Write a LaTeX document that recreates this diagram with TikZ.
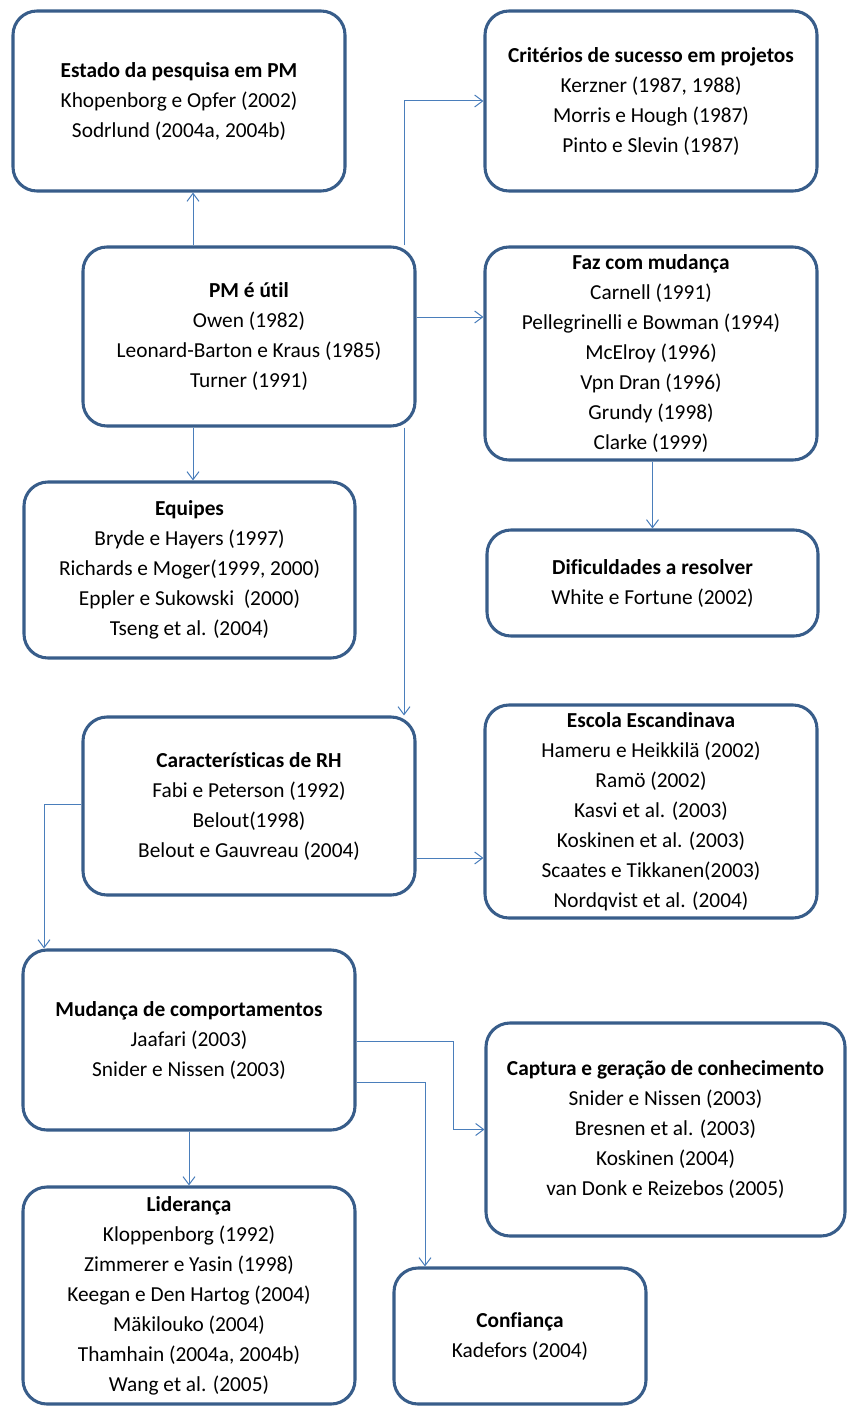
\documentclass[tikz,border=0pt]{standalone}
\usepackage{fontspec}
\setmainfont{Carlito}[RawFeature=-liga]
\usetikzlibrary{arrows.meta,calc}
\definecolor{boxblue}{HTML}{385D8A}
\definecolor{linkblue}{HTML}{4A7EBB}
\tikzset{every picture/.style={line width=0.75pt}}

\begin{document}
\begin{tikzpicture}[x=0.75pt,y=0.75pt,yscale=-1,
  caixa/.style={draw=boxblue,line width=2.3pt,rounded corners=18pt,fill=white,align=center,inner sep=0pt,font={\fontsize{16}{22.5}\selectfont}},
  liga/.style={draw=linkblue,line width=0.75pt,-{Straight Barb[length=6pt,width=9pt]}}]
  \useasboundingbox (0,0) rectangle (846,1409);

  %Shape: Rounded Rect [estado]
  \node[caixa,minimum width=249pt,minimum height=135pt] (estado) at (179,101) {\textbf{Estado da pesquisa em PM}\\Khopenborg e Opfer (2002)\\Sodrlund (2004a, 2004b)};
  %Shape: Rounded Rect [criterios]
  \node[caixa,minimum width=249pt,minimum height=135pt] (criterios) at (651,101) {\textbf{Critérios de sucesso em projetos}\\Kerzner (1987, 1988)\\Morris e Hough (1987)\\Pinto e Slevin (1987)};
  %Shape: Rounded Rect [util]
  \node[caixa,minimum width=249pt,minimum height=134.25pt] (util) at (249,336.5) {\textbf{PM é útil}\\Owen (1982)\\Leonard-Barton e Kraus (1985)\\Turner (1991)};
  %Shape: Rounded Rect [faz]
  \node[caixa,minimum width=249pt,minimum height=159.75pt] (faz) at (651,353.5) {\textbf{Faz com mudança}\\Carnell (1991)\\Pellegrinelli e Bowman (1994)\\McElroy (1996)\\Vpn Dran (1996)\\Grundy (1998)\\Clarke (1999)};
  %Shape: Rounded Rect [equipes]
  \node[caixa,minimum width=248.25pt,minimum height=132pt] (equipes) at (189.5,570) {\textbf{Equipes}\\Bryde e Hayers (1997)\\Richards e Moger(1999, 2000)\\Eppler e Sukowski~~(2000)\\Tseng et al. (2004)};
  %Shape: Rounded Rect [dificuldades]
  \node[caixa,minimum width=248.25pt,minimum height=79.5pt] (dificuldades) at (652.5,583) {\textbf{Dificuldades a resolver}\\White e Fortune (2002)};
  %Shape: Rounded Rect [caract]
  \node[caixa,minimum width=249pt,minimum height=133.5pt] (caract) at (249,806) {\textbf{Características de RH}\\Fabi e Peterson (1992)\\Belout(1998)\\Belout e Gauvreau (2004)};
  %Shape: Rounded Rect [escola]
  \node[caixa,minimum width=249pt,minimum height=159.75pt] (escola) at (651,811.5) {\textbf{Escola Escandinava}\\Hameru e Heikkilä (2002)\\Ramö (2002)\\Kasvi et al. (2003)\\Koskinen et al. (2003)\\Scaates e Tikkanen(2003)\\Nordqvist et al. (2004)};
  %Shape: Rounded Rect [mudanca]
  \node[caixa,minimum width=249pt,minimum height=135pt] (mudanca) at (189,1040) {\textbf{Mudança de comportamentos}\\Jaafari (2003)\\Snider e Nissen (2003)};
  %Shape: Rounded Rect [captura]
  \node[caixa,minimum width=269.25pt,minimum height=159.75pt] (captura) at (665.5,1129.5) {\textbf{Captura e geração de conhecimento}\\Snider e Nissen (2003)\\Bresnen et al. (2003)\\Koskinen (2004)\\van Donk e Reizebos (2005)};
  %Shape: Rounded Rect [lideranca]
  \node[caixa,minimum width=249pt,minimum height=162.75pt] (lideranca) at (189,1295.5) {\textbf{Liderança}\\Kloppenborg (1992)\\Zimmerer e Yasin (1998)\\Keegan e Den Hartog (2004)\\Mäkilouko (2004)\\Thamhain (2004a, 2004b)\\Wang et al. (2005)};
  %Shape: Rounded Rect [confianca]
  \node[caixa,minimum width=189pt,minimum height=102pt] (confianca) at (520,1336) {\textbf{Confiança}\\Kadefors (2004)};

  %Connector end points
  \coordinate (u1) at ($(util.north)+(-56,0)$);
  \coordinate (u2) at ($(util.north)+(155,0)$);
  \coordinate (u3) at ($(util.east)+(0,-19.5)$);
  \coordinate (u4) at ($(util.south)+(-56,0)$);
  \coordinate (u5) at ($(util.south)+(155,0)$);
  \coordinate (c1) at ($(caract.west)+(0,-2)$);
  \coordinate (c2) at ($(caract.east)+(0,52)$);
  \coordinate (m0) at ($(mudanca.north)+(-145,0)$);
  \coordinate (m1) at ($(mudanca.east)+(0,1)$);
  \coordinate (m2) at ($(mudanca.east)+(0,42)$);
  \coordinate (m3) at ($(m1)+(97,0)$);
  \coordinate (k1) at ($(confianca.north)+(-95,0)$);

  %Connectors
  \draw[liga] (u1) -- (u1 |- estado.south);
  \draw[liga] (u2) |- (criterios.west);
  \draw[liga] (u3) -- (u3 -| faz.west);
  \draw[liga] (u4) -- (u4 |- equipes.north);
  \draw[liga] (u5) -- (u5 |- caract.north);
  \draw[liga] (faz.south -| dificuldades.north) -- (dificuldades.north);
  \draw[liga] (c1) -| (m0);
  \draw[liga] (c2) -- (c2 -| escola.west);
  \draw[liga] (m1) -- (m3) |- (captura.west);
  \draw[liga] (m2) -| (k1);
  \draw[liga] (mudanca.south) -- (lideranca.north);
\end{tikzpicture}
\end{document}
